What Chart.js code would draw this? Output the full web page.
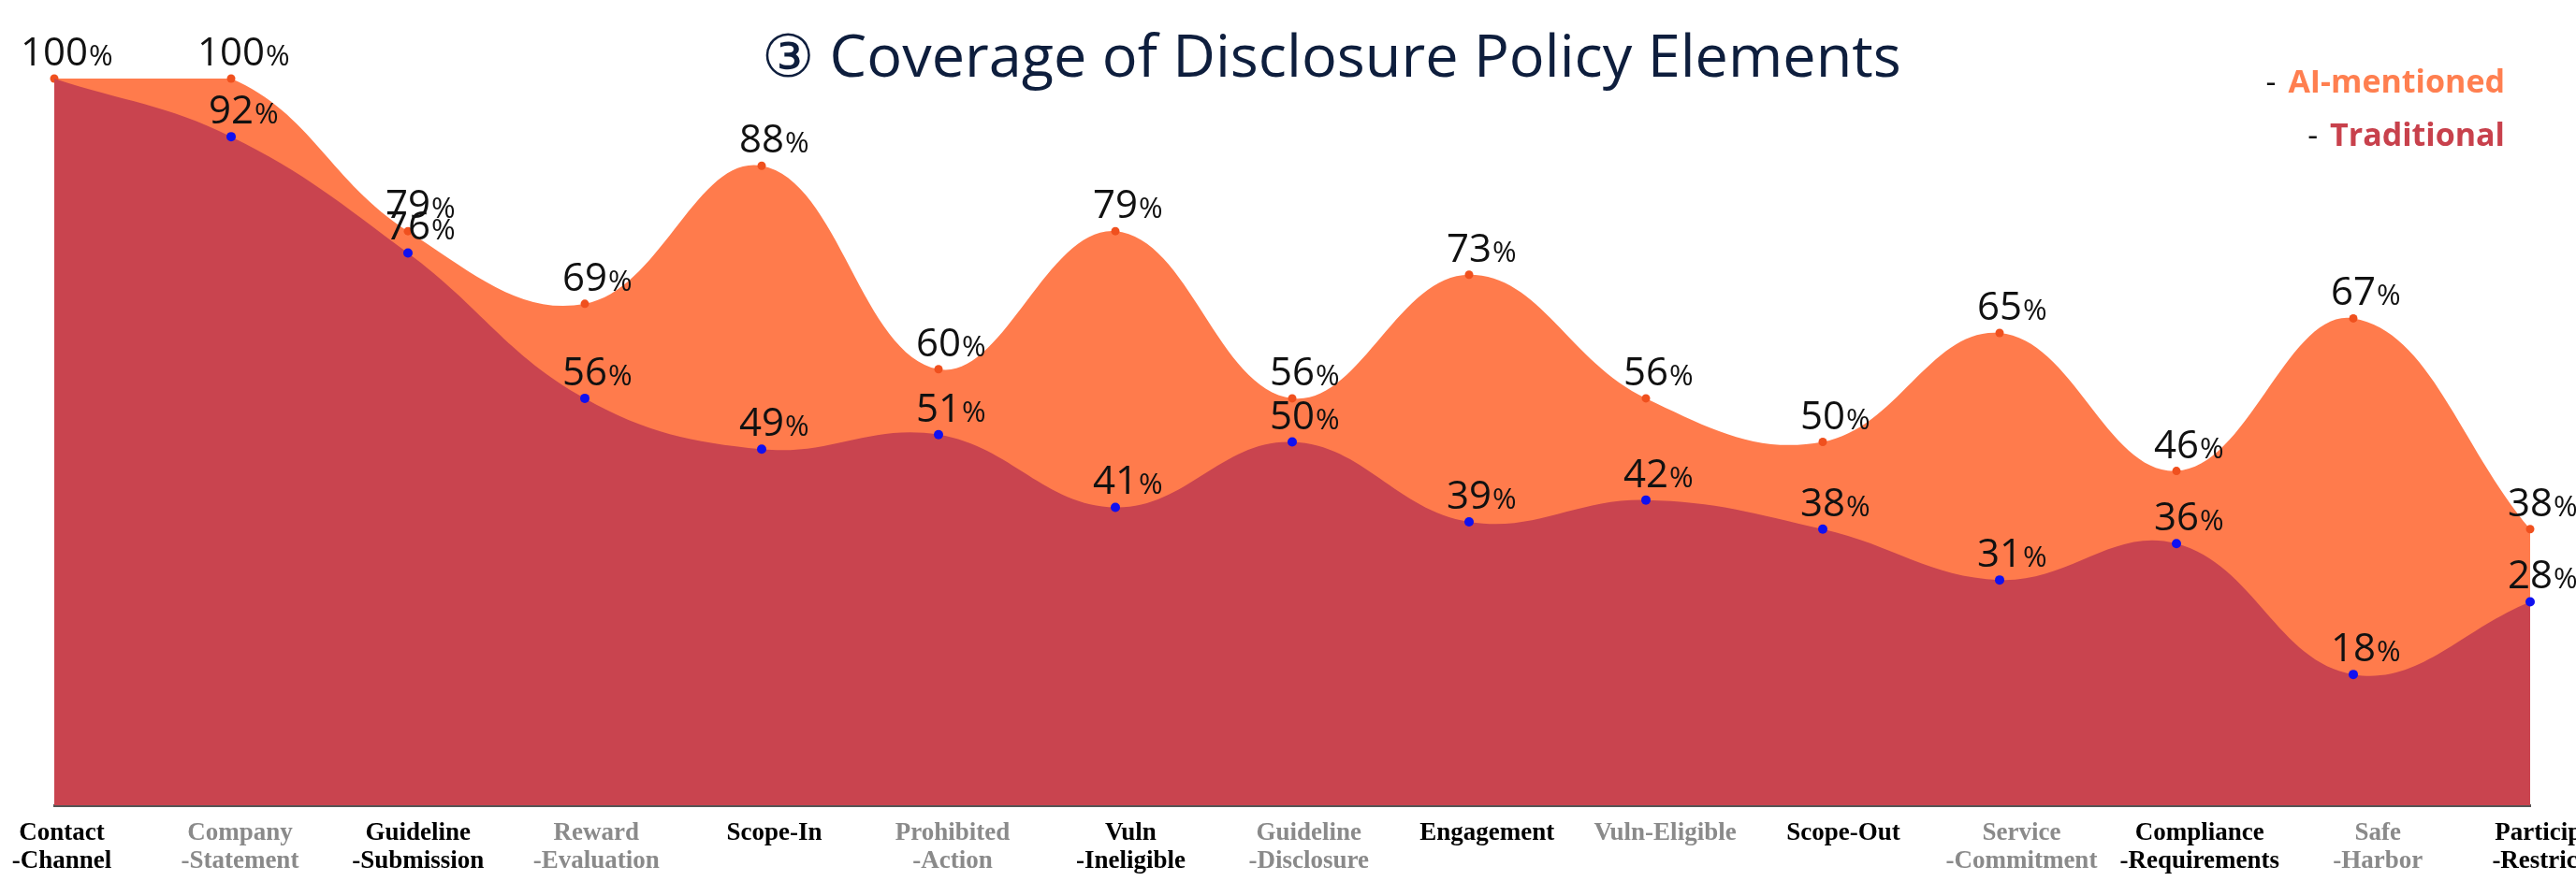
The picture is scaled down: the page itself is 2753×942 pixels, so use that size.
<!DOCTYPE html>
<html>
<head>
<meta charset="utf-8">
<script src="https://cdn.jsdelivr.net/npm/chart.js@4.4.1/dist/chart.umd.min.js"></script>
<style>
  html, body { margin: 0; padding: 0; background: #fff; }
  #wrap { width: 2753px; height: 942px; position: relative; }
</style>
</head>
<body>
<div id="wrap"><canvas id="myChart"></canvas></div>
<script>
// categories (two-line labels) and series values, in %
const categories = [
  ['Contact', '-Channel'], ['Company', '-Statement'], ['Guideline', '-Submission'],
  ['Reward', '-Evaluation'], ['Scope-In'], ['Prohibited', '-Action'],
  ['Vuln', '-Ineligible'], ['Guideline', '-Disclosure'], ['Engagement'],
  ['Vuln-Eligible'], ['Scope-Out'], ['Service', '-Commitment'],
  ['Compliance', '-Requirements'], ['Safe', '-Harbor'], ['Participant', '-Restriction']
];
const aiMentioned = [100, 100, 79, 69, 88, 60, 79, 56, 73, 56, 50, 65, 46, 67, 38];
const traditional = [100, 92, 76, 56, 49, 51, 41, 50, 39, 42, 38, 31, 36, 18, 28];

const ORANGE = '#FF7B4C';
const RED = '#C9444F';

// number labels above each point ("79" big, "%" smaller)
const pctLabels = {
  id: 'pctLabels',
  afterDatasetsDraw(chart) {
    const ctx = chart.ctx;
    chart.data.datasets.forEach((ds, di) => {
      const meta = chart.getDatasetMeta(di);
      meta.data.forEach((pt, i) => {
        // first point: both 100, only one label shown
        if (di === 1 && ds.data[i] === aiMentioned[i]) return;
        const num = String(ds.data[i]);
        const y = pt.y - 14;
        ctx.save();
        ctx.fillStyle = '#111';
        ctx.textAlign = 'left';
        ctx.textBaseline = 'alphabetic';
        ctx.font = '42px "Open Sans"';
        const w = ctx.measureText(num).width;
        ctx.fillText(num, pt.x - w / 2, y);
        ctx.font = '31px "Open Sans"';
        ctx.fillText('%', pt.x + w / 2 + 1, y);
        ctx.restore();
      });
    });
  }
};

// title, legend text and category labels
const decorations = {
  id: 'decorations',
  afterDraw(chart) {
    const ctx = chart.ctx;
    const xs = chart.scales.x;
    ctx.save();

    ctx.fillStyle = '#0E1E3D';
    ctx.textAlign = 'center';
    ctx.textBaseline = 'alphabetic';
    ctx.font = '63px "Open Sans"';
    ctx.fillText('\u2462 Coverage of Disclosure Policy Elements', 1423, 82);

    const legendItems = [['AI-mentioned', '#FF7F50', 99], ['Traditional', '#C8414C', 156]];
    legendItems.forEach(([name, col, y]) => {
      ctx.textAlign = 'right';
      ctx.font = 'bold 34px "Open Sans"';
      ctx.fillStyle = col;
      ctx.fillText(name, 2677, y);
      const w = ctx.measureText(name).width;
      ctx.font = '34px "Open Sans"';
      ctx.fillStyle = '#111';
      ctx.fillText('- ', 2677 - w - 4, y);
    });

    ctx.textAlign = 'center';
    ctx.font = 'bold 27px "Liberation Serif"';
    categories.forEach((lines, i) => {
      const x = xs.getPixelForValue(i) + 8 + i * 1.4;
      ctx.fillStyle = i % 2 === 0 ? '#000' : '#8A8A8A';
      lines.forEach((t, li) => {
        ctx.fillText(t, x, xs.bottom + 37 + li * 30);
      });
    });
    ctx.restore();
  }
};

const data = {
  labels: categories.map(c => c.join(' ')),
  datasets: [
    {
      label: 'AI-mentioned',
      data: aiMentioned,
      fill: 'origin',
      backgroundColor: ORANGE,
      borderColor: ORANGE,
      borderWidth: 0,
      pointRadius: 4.5,
      pointBackgroundColor: '#F0501E',
      pointBorderWidth: 0,
      order: 2,
      clip: false,
    },
    {
      label: 'Traditional',
      data: traditional,
      fill: 'origin',
      backgroundColor: RED,
      borderColor: RED,
      borderWidth: 0,
      pointRadius: traditional.map((v, i) => v === aiMentioned[i] ? 0 : 5),
      pointBackgroundColor: '#1010F0',
      pointBorderWidth: 0,
      order: 1,
      clip: false,
    },
  ],
};

const options = {
  responsive: true,
  maintainAspectRatio: false,
  animation: false,
  layout: { padding: { left: 58, right: 49, top: 84, bottom: 81 } },
  elements: { line: { tension: 0.4 } },
  plugins: {
    legend: { display: false },
    tooltip: { enabled: false },
  },
  scales: {
    x: {
      type: 'category',
      offset: false,
      grid: { display: false, drawTicks: false, tickLength: 0 },
      ticks: { display: false },
      border: { display: true, color: '#555', width: 3 },
    },
    y: { display: false, min: 0, max: 100 },
  },
};

const ctx = document.getElementById('myChart').getContext('2d');
const myChart = new Chart(ctx, {
  type: 'line',
  data: data,
  options: options,
  plugins: [pctLabels, decorations],
});
</script>
</body>
</html>
